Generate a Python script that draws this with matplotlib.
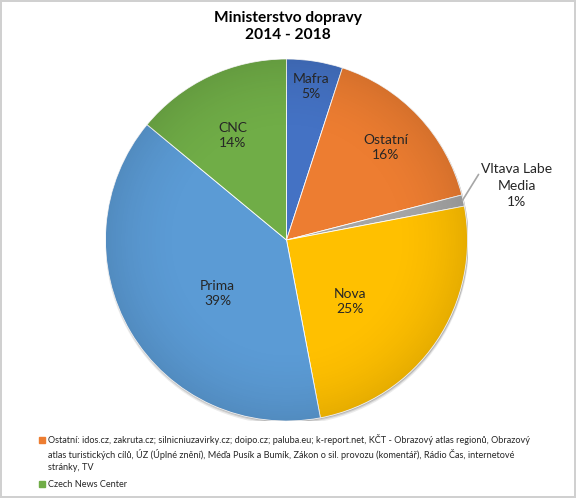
import numpy as np
import matplotlib
matplotlib.use("Agg")
import matplotlib.pyplot as plt
from matplotlib.patches import Rectangle, Circle

plt.rcParams['font.family'] = ['Lato', 'DejaVu Sans']

# data
labels = ["Mafra", "Ostatní", "Vltava Labe\nMedia", "Nova", "Prima", "CNC"]
shares = [5, 16, 1, 25, 39, 14]
colors = ["#4472C4", "#ED7D31", "#A5A5A5", "#FFC000", "#5B9BD5", "#70AD47"]
legend_labels = [
    "Ostatní: idos.cz, zakruta.cz; silnicniuzavirky.cz; doipo.cz; paluba.eu; k-report.net, KČT - Obrazový atlas regionů, Obrazový\n"
    "atlas turistických cílů, ÚZ (Úplné znění), Méďa Pusík a Bumík, Zákon o sil. provozu (komentář), Rádio Čas, internetové\n"
    "stránky, TV",
    "Czech News Center",
]
legend_idx = [1, 5]

W, H = 576, 498
fig = plt.figure(figsize=(W / 100, H / 100), dpi=100)
fig.patch.set_edgecolor("#d0d0d0")
fig.patch.set_linewidth(1.5)

cx, cy, r = 286.5, 240, 181
ax = fig.add_axes([(cx - r) / W, (H - cy - r) / H, 2 * r / W, 2 * r / H])

# soft shadow under the pie
for k, a in [(0.016, 0.10), (0.010, 0.15), (0.005, 0.2)]:
    ax.add_patch(Circle((0.004, -k), 1.0 + k * 0.3, color="#404040", alpha=a,
                        lw=0, zorder=0))

wedges, _ = ax.pie(shares, colors=colors, startangle=90, counterclock=False,
                   radius=1, wedgeprops=dict(edgecolor="white", linewidth=0.6))
ax.set_xlim(-1, 1)
ax.set_ylim(-1, 1)
ax.set_aspect("equal")
ax.axis("off")

# subtle radial shading (lighter middle, darker rim) like the Excel style
g = np.linspace(-1, 1, 400)
xx, yy = np.meshgrid(g, g)
rr = np.sqrt(xx ** 2 + yy ** 2)
shade = np.zeros((400, 400, 4))
shade[..., 3] = np.clip((rr - 0.55) / 0.45, 0, 1) ** 2 * 0.10
im = ax.imshow(shade, extent=(-1, 1, -1, 1), origin="lower", zorder=2,
               interpolation="bilinear")
im.set_clip_path(Circle((0, 0), 1.0, transform=ax.transData))

# label placement per slice (Excel best-fit): radius factor, angle shift
rfac = [0.86, 0.75, 1.0, 0.49, 0.48, 0.65]
dang = [0, 0, 0, -10, 7, 2]
for w, lab, val, k, da in zip(wedges, labels, shares, rfac, dang):
    ang = np.deg2rad((w.theta1 + w.theta2) / 2 + da)
    txt = f"{lab}\n{val}%"
    if "Vltava" in lab:
        x0, y0 = np.cos(ang), np.sin(ang)
        ax.annotate(txt, xy=(x0 * 0.995, y0 * 0.995), xytext=(1.273, 0.30),
                    ha="center", va="center", fontsize=10, color="#262626",
                    linespacing=1.45, annotation_clip=False, zorder=5,
                    arrowprops=dict(arrowstyle="-", color="#a6a6a6", lw=1.2,
                                    shrinkA=0, shrinkB=0, relpos=(0.0, 0.85)))
        continue
    ax.text(k * np.cos(ang), k * np.sin(ang), txt, ha="center", va="center",
            fontsize=10, color="#262626", linespacing=1.3, zorder=5)

fig.text(0.5, 0.978, "Ministerstvo dopravy\n2014 - 2018", ha="center", va="top",
         fontsize=11.2, fontweight="bold", color="#000000", linespacing=1.3)

# legend (drawn manually, Excel-style wrapped entries)
ly = [440, 484]
for i, y in zip(legend_idx, ly):
    fig.patches.append(Rectangle((39 / W, 1 - (y + 3) / H), 6 / W, 6 / H,
                                 transform=fig.transFigure, color=colors[i]))
for lab, y in zip(legend_labels, ly):
    if "\n" in lab:
        fig.text(48 / W, 1 - (y - 6) / H, lab, ha="left", va="top",
                 fontsize=6.6, color="#262626", linespacing=1.45)
    else:
        fig.text(48 / W, 1 - y / H, lab, ha="left", va="center",
                 fontsize=6.6, color="#262626")

fig.savefig("out.png", dpi=100)
